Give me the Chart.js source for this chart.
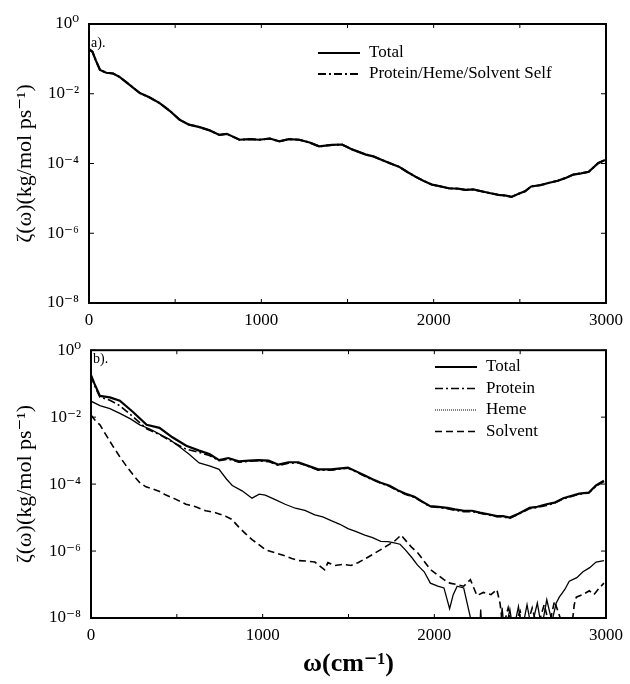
<!DOCTYPE html>
<html lang="en">
<head>
    <meta charset="UTF-8">
    <title>Friction kernel spectrum</title>
    <script src="https://cdn.jsdelivr.net/npm/chart.js"></script>
    <style>
        body { margin: 0; background: #fff; }
        #wrap { position: relative; width: 630px; height: 684px; background: #fff; }
        canvas { position: absolute; left: 0; }
    </style>
</head>
<body>
<div id="wrap">
    <canvas id="chartA" width="630" height="330" style="top:0"></canvas>
    <canvas id="chartB" width="630" height="354" style="top:330px"></canvas>
</div>
<script>
    // x axis ticks
    const xTicks = [0, 500, 1000, 1500, 2000, 2500, 3000];
    const xTickLabels = ['0', '', '1000', '', '2000', '', '3000'];
    // y axis ticks (log)
    const yTicks = [1, 1e-2, 1e-4, 1e-6, 1e-8];
    const yTickLabels = ['10\u2070', '10\u207B\u00B2', '10\u207B\u2074', '10\u207B\u2076', '10\u207B\u2078'];

    // panel a) - total and self sum (overlapping)
    const freqA = [0, 20, 40, 64, 100, 140, 179, 230, 295, 350, 410, 470, 526, 580, 642, 700, 757, 800, 873, 930,
        988, 1050, 1104, 1160, 1220, 1280, 1335, 1410, 1468, 1530, 1607, 1650, 1700, 1750, 1798, 1850, 1894, 1940,
        1988, 2040, 2087, 2140, 2185, 2230, 2277, 2330, 2376, 2420, 2451, 2500, 2530, 2566, 2620, 2665, 2720, 2763,
        2810, 2855, 2900, 2954, 2994];
    const totalA = [1.9e-1, 1.6e-1, 8.9e-2, 4.8e-2, 4.0e-2, 3.8e-2, 3.0e-2, 1.9e-2, 1.05e-2, 7.9e-3, 5.4e-3, 3.2e-3,
        1.8e-3, 1.3e-3, 1.1e-3, 8.9e-4, 6.6e-4, 7.1e-4, 4.8e-4, 5.0e-4, 4.8e-4, 5.2e-4, 4.3e-4, 5.0e-4, 4.8e-4, 4.0e-4,
        3.1e-4, 3.4e-4, 3.5e-4, 2.5e-4, 1.8e-4, 1.6e-4, 1.26e-4, 1.0e-4, 8.1e-5, 5.6e-5, 4.2e-5, 3.2e-5, 2.5e-5,
        2.2e-5, 1.95e-5, 1.9e-5, 1.75e-5, 1.8e-5, 1.6e-5, 1.4e-5, 1.26e-5, 1.2e-5, 1.1e-5, 1.4e-5, 1.6e-5, 2.2e-5,
        2.4e-5, 2.75e-5, 3.2e-5, 3.8e-5, 4.8e-5, 5.2e-5, 5.8e-5, 1.02e-4, 1.26e-4];
    const selfSumA = [1.9e-1, 1.6e-1, 8.9e-2, 4.8e-2, 4.0e-2, 3.8e-2, 3.0e-2, 1.9e-2, 1.05e-2, 7.9e-3, 5.4e-3, 3.2e-3,
        1.8e-3, 1.3e-3, 1.1e-3, 8.9e-4, 6.6e-4, 7.1e-4, 4.8e-4, 5.0e-4, 4.8e-4, 5.2e-4, 4.3e-4, 5.0e-4, 4.8e-4, 4.0e-4,
        3.1e-4, 3.4e-4, 3.5e-4, 2.5e-4, 1.8e-4, 1.6e-4, 1.26e-4, 1.0e-4, 8.1e-5, 5.6e-5, 4.2e-5, 3.2e-5, 2.5e-5,
        2.2e-5, 1.95e-5, 1.9e-5, 1.75e-5, 1.8e-5, 1.6e-5, 1.4e-5, 1.26e-5, 1.2e-5, 1.1e-5, 1.4e-5, 1.6e-5, 2.2e-5,
        2.4e-5, 2.75e-5, 3.2e-5, 3.8e-5, 4.8e-5, 5.2e-5, 5.8e-5, 1.02e-4, 1.26e-4];

    // panel b) - total and protein share one grid
    const freqB = [0, 20, 52, 110, 168, 243, 324, 399, 474, 555, 630, 690, 746, 800, 861, 920, 977, 1035, 1092, 1150,
        1208, 1265, 1323, 1399, 1497, 1545, 1595, 1640, 1688, 1740, 1786, 1830, 1884, 1930, 1976, 2025, 2075, 2120,
        2173, 2220, 2265, 2315, 2364, 2400, 2439, 2490, 2555, 2600, 2653, 2700, 2751, 2800, 2844, 2900, 2942, 2988];
    const totalB = [1.8e-1, 1.0e-1, 4.3e-2, 3.9e-2, 3.1e-2, 1.45e-2, 5.9e-3, 4.8e-3, 2.5e-3, 1.4e-3, 1.0e-3, 7.9e-4,
        5.2e-4, 6.0e-4, 4.8e-4, 5.0e-4, 5.2e-4, 5.0e-4, 3.8e-4, 4.5e-4, 4.5e-4, 3.5e-4, 2.75e-4, 2.75e-4, 3.1e-4,
        2.4e-4, 1.8e-4, 1.4e-4, 1.1e-4, 8.9e-5, 6.6e-5, 5.2e-5, 4.2e-5, 3.0e-5, 2.2e-5, 2.1e-5, 1.95e-5, 1.75e-5,
        1.6e-5, 1.6e-5, 1.4e-5, 1.26e-5, 1.1e-5, 1.1e-5, 1.0e-5, 1.3e-5, 1.95e-5, 2.1e-5, 2.5e-5, 2.8e-5, 3.8e-5,
        4.5e-5, 5.2e-5, 5.6e-5, 9.1e-5, 1.26e-4];
    const proteinB = [1.8e-1, 8.9e-2, 4.0e-2, 3.2e-2, 2.2e-2, 1.05e-2, 4.5e-3, 3.0e-3, 1.8e-3, 1.1e-3, 8.9e-4, 7.1e-4,
        5.0e-4, 5.6e-4, 4.5e-4, 4.8e-4, 5.0e-4, 4.7e-4, 3.6e-4, 4.2e-4, 4.3e-4, 3.4e-4, 2.6e-4, 2.6e-4, 3.0e-4,
        2.3e-4, 1.7e-4, 1.35e-4, 1.07e-4, 8.5e-5, 6.3e-5, 5.0e-5, 4.0e-5, 2.9e-5, 2.1e-5, 2.0e-5, 1.85e-5, 1.65e-5,
        1.5e-5, 1.5e-5, 1.35e-5, 1.2e-5, 1.07e-5, 1.05e-5, 9.5e-6, 1.26e-5, 1.85e-5, 2.0e-5, 2.3e-5, 2.7e-5, 3.6e-5,
        4.3e-5, 5.0e-5, 5.4e-5, 8.7e-5, 1.2e-4];

    const freqHeme = [0, 52, 110, 168, 230, 284, 340, 399, 455, 515, 570, 630, 690, 746, 790, 823, 880, 938, 980, 1015,
        1070, 1131, 1190, 1246, 1304, 1350, 1399, 1450, 1497, 1545, 1595, 1640, 1688, 1730, 1767, 1800, 1830, 1870,
        1902, 1941, 1977, 2020, 2056, 2089, 2110, 2133, 2171, 2209, 2230, 2262, 2270, 2280, 2380, 2395, 2410, 2440,
        2460, 2490, 2510, 2540, 2565, 2600, 2625, 2655, 2685, 2710, 2728, 2760, 2786, 2830, 2866, 2905, 2942, 2988];
    const hemeB = [3.0e-2, 2.2e-2, 1.8e-2, 1.3e-2, 8.9e-3, 5.9e-3, 4.5e-3, 3.1e-3, 2.2e-3, 1.3e-3, 7.9e-4, 4.3e-4,
        3.5e-4, 2.75e-4, 1.4e-4, 9.1e-5, 6.3e-5, 3.8e-5, 5.0e-5, 4.7e-5, 3.5e-5, 2.5e-5, 1.9e-5, 1.65e-5, 1.2e-5,
        1.05e-5, 8.1e-6, 6.3e-6, 4.7e-6, 3.8e-6, 3.0e-6, 2.5e-6, 1.95e-6, 1.9e-6, 1.75e-6, 1.6e-6, 1.1e-6, 6.3e-7,
        3.8e-7, 2.4e-7, 1.1e-7, 8.9e-8, 7.9e-8, 1.9e-8, 5.0e-8, 8.9e-8, 7.9e-8, 1.1e-8, 2.5e-9, 2.5e-9, 1.8e-8,
        2.5e-9, 2.5e-9, 2.0e-8, 3.2e-9, 1.8e-8, 4.0e-9, 2.2e-8, 4.0e-9, 2.5e-8, 5.0e-9, 2.8e-8, 5.0e-9, 3.5e-8,
        7.9e-9, 2.8e-8, 4.2e-8, 7.1e-8, 1.26e-7, 1.6e-7, 2.4e-7, 3.2e-7, 4.7e-7, 5.2e-7];

    const freqSolv = [0, 25, 52, 90, 130, 170, 207, 245, 284, 320, 360, 400, 437, 495, 553, 610, 668, 725, 784, 820,
        861, 900, 938, 975, 1015, 1070, 1131, 1170, 1208, 1260, 1304, 1361, 1380, 1419, 1470, 1515, 1555, 1595, 1640,
        1688, 1730, 1767, 1806, 1845, 1870, 1903, 1940, 1977, 2015, 2056, 2090, 2130, 2171, 2210, 2248, 2286, 2330,
        2364, 2383, 2400, 2430, 2455, 2500, 2530, 2570, 2600, 2640, 2670, 2700, 2740, 2770, 2800, 2815, 2827, 2865,
        2903, 2930, 2961, 2988];
    const solventB = [1.15e-2, 7.9e-3, 5.9e-3, 2.8e-3, 1.3e-3, 6.3e-4, 3.4e-4, 1.9e-4, 1.1e-4, 8.3e-5, 7.2e-5, 6.0e-5,
        4.7e-5, 3.5e-5, 2.5e-5, 2.1e-5, 1.6e-5, 1.4e-5, 1.1e-5, 8.9e-6, 5.2e-6, 3.3e-6, 2.2e-6, 1.6e-6, 1.1e-6,
        8.9e-7, 7.2e-7, 6.0e-7, 5.2e-7, 5.0e-7, 4.7e-7, 2.75e-7, 4.5e-7, 3.7e-7, 4.0e-7, 3.7e-7, 4.5e-7, 5.8e-7,
        7.9e-7, 1.1e-6, 1.5e-6, 1.95e-6, 3.0e-6, 1.75e-6, 1.26e-6, 8.9e-7, 5.0e-7, 2.8e-7, 2.0e-7, 1.4e-7, 1.1e-7,
        1.0e-7, 8.9e-8, 1.4e-7, 4.7e-8, 5.8e-8, 5.0e-8, 7.1e-8, 2.7e-8, 5.0e-9, 2.0e-8, 4.0e-9, 1.6e-8, 4.0e-9,
        2.0e-8, 5.0e-9, 2.5e-8, 6.3e-9, 3.2e-8, 7.9e-9, 4.0e-9, 5.0e-9, 2.5e-8, 4.2e-8, 5.0e-8, 6.5e-8, 5.0e-8,
        7.9e-8, 1.1e-7];

    const FONT = "'Liberation Serif', 'DejaVu Serif', serif";
    Chart.defaults.font.family = FONT;
    Chart.defaults.color = '#000';

    function pts(xs, ys) {
        return xs.map((x, i) => ({x: x, y: ys[i]}));
    }

    // frame, inward ticks, panel tag and legend drawn inside the plot area
    const framePlugin = {
        id: 'frame',
        afterDatasetsDraw(chart, args, opts) {
            const ctx = chart.ctx;
            const a = chart.chartArea;
            const sx = chart.scales.x, sy = chart.scales.y;
            ctx.save();
            ctx.setLineDash([]);
            ctx.strokeStyle = '#000';
            ctx.lineWidth = 1;
            ctx.beginPath();
            xTicks.forEach(v => {
                const px = sx.getPixelForValue(v);
                ctx.moveTo(px, a.bottom); ctx.lineTo(px, a.bottom - 4);
                ctx.moveTo(px, a.top); ctx.lineTo(px, a.top + 4);
            });
            yTicks.forEach(v => {
                const py = sy.getPixelForValue(v);
                ctx.moveTo(a.left, py); ctx.lineTo(a.left + 5, py);
                ctx.moveTo(a.right, py); ctx.lineTo(a.right - 5, py);
            });
            ctx.stroke();
            ctx.lineWidth = 2;
            ctx.strokeRect(a.left, a.top, a.right - a.left, a.bottom - a.top);

            ctx.fillStyle = '#000';
            ctx.font = '14px ' + FONT;
            ctx.textBaseline = 'middle';
            ctx.textAlign = 'left';
            ctx.fillText(opts.tag, a.left + 2, a.top + opts.tagDy);

            const lg = opts.legend;
            ctx.font = '17px ' + FONT;
            chart.data.datasets.forEach((ds, i) => {
                const y = lg.y + i * lg.row;
                ctx.lineWidth = ds.legendWidth || ds.borderWidth;
                ctx.setLineDash(ds.legendDash || ds.borderDash || []);
                ctx.beginPath();
                ctx.moveTo(lg.x, y);
                ctx.lineTo(lg.x + 42, y);
                ctx.stroke();
                ctx.setLineDash([]);
                ctx.fillText(ds.label, lg.x + 51, y);
            });
            ctx.restore();
        }
    };

    function makeScales(yWidth, xHeight, xTitle) {
        return {
            x: {
                type: 'linear',
                min: 0,
                max: 3000,
                afterBuildTicks: s => { s.ticks = xTicks.map(v => ({value: v})); },
                afterFit: s => { s.height = xHeight; },
                grid: {display: false, drawTicks: false},
                border: {display: false},
                ticks: {
                    autoSkip: false,
                    maxRotation: 0,
                    padding: 7,
                    font: {size: 17},
                    callback: (v, i) => xTickLabels[i]
                },
                title: xTitle
            },
            y: {
                type: 'logarithmic',
                min: 1e-8,
                max: 1,
                afterBuildTicks: s => { s.ticks = yTicks.map(v => ({value: v})); },
                afterFit: s => { s.width = yWidth; },
                grid: {display: false, drawTicks: false},
                border: {display: false},
                ticks: {
                    padding: 10,
                    font: {size: 17},
                    callback: (v, i) => yTickLabels[i]
                },
                title: {
                    display: true,
                    text: '\u03B6(\u03C9)(kg/mol ps\u207B\u00B9)',
                    font: {size: 22},
                    padding: {top: 12, bottom: 0}
                }
            }
        };
    }

    const chartA = new Chart(document.getElementById('chartA'), {
        type: 'line',
        data: {
            datasets: [
                {label: 'Total', data: pts(freqA, totalA), borderColor: '#000', borderWidth: 2.2},
                {label: 'Protein/Heme/Solvent Self', data: pts(freqA, selfSumA), borderColor: '#000',
                    borderWidth: 2, borderDash: [8, 3, 2, 3]}
            ]
        },
        options: {
            responsive: false,
            animation: false,
            devicePixelRatio: 1,
            parsing: false,
            elements: {point: {radius: 0}, line: {tension: 0}},
            layout: {padding: {top: 24, right: 22, left: 0, bottom: 0}},
            scales: makeScales(89, 27, {display: false}),
            plugins: {
                legend: {display: false},
                tooltip: {enabled: false},
                frame: {tag: 'a).', tagDy: 19, legend: {x: 318, y: 53, row: 21}}
            }
        },
        plugins: [framePlugin]
    });

    const chartB = new Chart(document.getElementById('chartB'), {
        type: 'line',
        data: {
            datasets: [
                {label: 'Total', data: pts(freqB, totalB), borderColor: '#000', borderWidth: 2.2},
                {label: 'Protein', data: pts(freqB, proteinB), borderColor: '#000', borderWidth: 1.6,
                    borderDash: [8, 3, 2, 3]},
                {label: 'Heme', data: pts(freqHeme, hemeB), borderColor: '#000', borderWidth: 1.3,
                    legendDash: [1, 1], legendWidth: 1},
                {label: 'Solvent', data: pts(freqSolv, solventB), borderColor: '#000', borderWidth: 1.6,
                    borderDash: [7, 4]}
            ]
        },
        options: {
            responsive: false,
            animation: false,
            devicePixelRatio: 1,
            parsing: false,
            elements: {point: {radius: 0}, line: {tension: 0}},
            layout: {padding: {top: 9, right: 20, left: 0, bottom: 0}},
            scales: makeScales(91, 66, {
                display: true,
                text: '\u03C9(cm\u207B\u00B9)',
                font: {size: 26, weight: 'bold'},
                padding: {top: 0, bottom: 4}
            }),
            plugins: {
                legend: {display: false},
                tooltip: {enabled: false},
                frame: {tag: 'b).', tagDy: 9, legend: {x: 435, y: 37, row: 21.5}}
            }
        },
        plugins: [framePlugin]
    });
</script>
</body>
</html>
